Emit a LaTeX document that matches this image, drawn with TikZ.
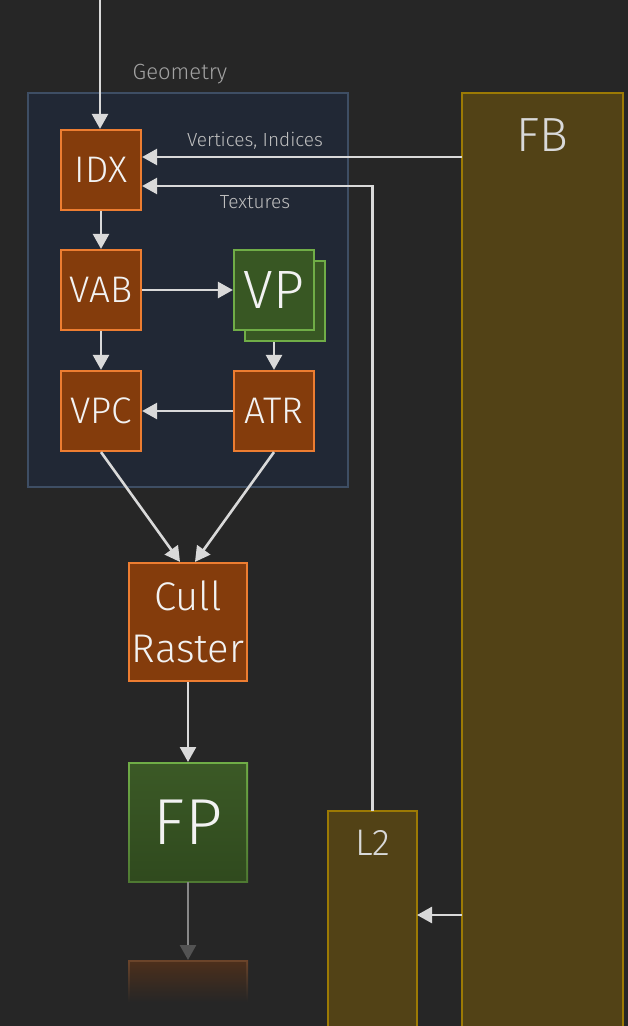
\documentclass[tikz,border=0pt]{standalone}
\usepackage{fontspec}
\setmainfont{Fira Sans}[UprightFont=* Light]
\usetikzlibrary{arrows.meta,calc}
\definecolor{bgc}{HTML}{262626}
\definecolor{geofill}{HTML}{212835}
\definecolor{geoline}{HTML}{3E4E64}
\definecolor{orfill}{HTML}{843C0C}
\definecolor{orline}{HTML}{ED7D31}
\definecolor{grfill}{HTML}{385723}
\definecolor{grtop}{HTML}{3B5926}
\definecolor{grline}{HTML}{70AD47}
\definecolor{gdfill}{HTML}{524216}
\definecolor{gdline}{HTML}{9C7A04}
\definecolor{arrc}{HTML}{D9D9D9}
\definecolor{lblc}{HTML}{BFBFBF}
\definecolor{txtc}{HTML}{F2F2F2}
\tikzset{
  ostage/.style={draw=orline, fill=orfill, line width=2.2pt, inner sep=0pt,
    minimum width=80pt, minimum height=80pt, text=txtc, font=\fontsize{37}{44}\selectfont},
  gstage/.style={draw=grline, fill=grfill, line width=2.2pt, inner sep=0pt,
    minimum width=80pt, minimum height=80pt, text=txtc},
  bigstage/.style={line width=2.2pt, inner sep=0pt,
    minimum width=118pt, minimum height=118pt, text=txtc},
  mem/.style={draw=gdline, fill=gdfill, line width=2.2pt},
  flow/.style={draw=arrc, line width=2.6pt, -{Triangle[length=15pt,width=16pt]}},
  lbl/.style={text=lblc, inner sep=0pt},
}
\begin{document}
\begin{tikzpicture}[x=1pt,y=-1pt]
\fill[bgc] (0,0) rectangle (628,1026);
\useasboundingbox (0,0) rectangle (628,1026);

% memory blocks
\draw[mem] (462,93) rectangle (623,1032);
\node[text=arrc, font=\fontsize{48}{52}\selectfont] (fb) at (542,135) {FB};
\draw[mem] (328,811) rectangle (417,1032);
\node[text=arrc, font=\fontsize{37}{44}\selectfont] (l2) at (372.5,843) {L2};
\coordinate (FBw) at (462,500);
\coordinate (L2n) at (372.5,811);
\coordinate (L2e) at (417,915);

% geometry box
\draw[draw=geoline, fill=geofill, line width=2.2pt] (28,93) rectangle (348,487);
\node[lbl, font=\fontsize{22}{26}\selectfont, text=lblc!85!black] (geo) at (180,74) {Geometry};

% stages
\node[ostage] (IDX) at (101,170) {IDX};
\node[ostage] (VAB) at (101,290) {VAB};
\node[ostage] (VPC) at (101,411) {VPC};
\node[ostage] (ATR) at (274,411) {ATR};
\node[gstage] (VPb) at (285,301) {};
\node[gstage, font=\fontsize{54}{60}\selectfont] (VP) at (274,290) {VP};

\node[bigstage, draw=orline, fill=orfill, align=center,
  font=\fontsize{40}{52}\selectfont] (CR) at (188,622) {Cull\\Raster};

% FP with gradient
\node[bigstage, top color=grline, bottom color=grline!70!black, minimum width=120pt, minimum height=120pt, line width=0pt] (FPo) at (188,822) {};
\node[bigstage, top color=grtop, bottom color=grfill!85!black, minimum width=116pt, minimum height=116pt, line width=0pt,
  font=\fontsize{65}{70}\selectfont] (FP) at (188,822) {FP};

% faded output block
\shade[top color=orline!35!bgc, bottom color=bgc] (128,960) rectangle (248,1002);
\shade[top color=orfill!40!bgc, bottom color=bgc] (130,962) rectangle (246,1002);
\coordinate (OUTn) at (188,960);

% connectors
\coordinate (src) at (100,0);
\draw[flow] (src) -- (src |- IDX.north);
\draw[flow] (FBw |- 0,157) -- (IDX.east |- 0,157)
  node[pos=0.647, above=6pt, lbl, font=\fontsize{19}{21}\selectfont] {Vertices, Indices};
\draw[flow] (L2n) |- (IDX.east |- 0,186)
  node[pos=0.755, below=8pt, lbl, font=\fontsize{19}{21}\selectfont] {Textures};
\draw[flow] (IDX) -- (VAB);
\draw[flow] (VAB) -- (VP);
\draw[flow] (VPb.south -| VP.south) -- (ATR);
\draw[flow] (ATR) -- (VPC);
\draw[flow] (VAB) -- (VPC);
\draw[flow] (VPC.south) -- ($(CR.north)+(-8,0)$);
\draw[flow] (ATR.south) -- ($(CR.north)+(7,0)$);
\draw[flow] (CR) -- (FPo);
\draw[line width=2.6pt, draw=arrc!55!bgc, -{Triangle[length=15pt,width=16pt,color=arrc!25!bgc]}] (FPo.south) -- (OUTn);
\draw[flow] (FBw |- L2e) -- (L2e);
\end{tikzpicture}
\end{document}
